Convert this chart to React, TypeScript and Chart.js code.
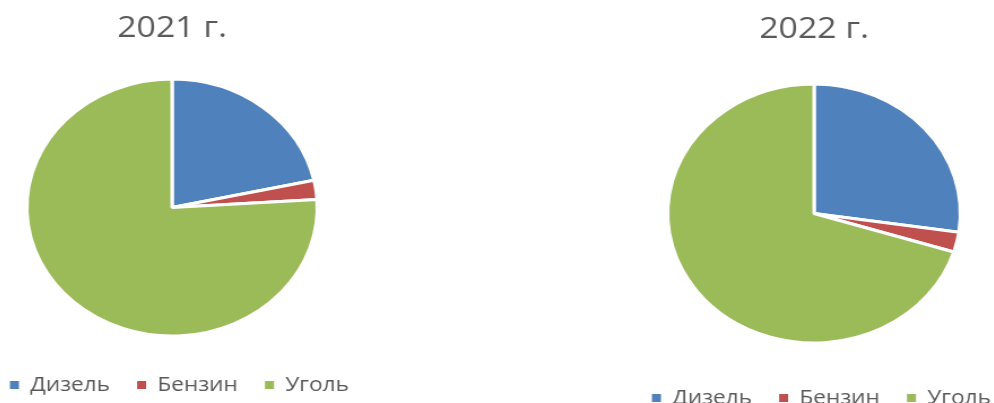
import { useEffect, useRef } from 'react';
import { Chart, registerables, DoughnutController } from 'chart.js';

Chart.register(...registerables);

// Fuel structure by year, percent
const fuelTypes = ['Дизель', 'Бензин', 'Уголь'];
const shares2021 = [21.6, 2.4, 76.0];
const shares2022 = [27.3, 2.5, 70.2];
const titles = ['2021 г.', '2022 г.'];
const sliceColors = ['#4F81BD', '#C0504D', '#9BBB59'];

const STRETCH = 1.13;
const BOX_W = 370;
const FONT = "'Open Sans', 'Liberation Sans', sans-serif";
const TEXT_COLOR = '#595959';

// Moves the legend sideways without touching the pie
const legendShift = {
  id: 'legendShift',
  afterLayout(chart: any, _args: any, opts: any) {
    const l = chart.legend;
    if (l && opts && opts.dx) {
      l.left += opts.dx;
      l.right += opts.dx;
    }
  },
};

type PieProps = {
  title: string;
  values: number[];
  centerX: number;
  height: number;
  radius: number;
  padTop: number;
  padBottom: number;
};

function FuelPie({ title, values, centerX, height, radius, padTop, padBottom }: PieProps) {
  const ref = useRef<HTMLCanvasElement | null>(null);

  useEffect(() => {
    if (!ref.current) return;
    const baseLabels = (DoughnutController as any).overrides.plugins.legend.labels.generateLabels;
    const chart = new Chart(ref.current, {
      type: 'pie',
      data: {
        labels: fuelTypes,
        datasets: [
          {
            data: values,
            backgroundColor: sliceColors,
            borderColor: '#ffffff',
            borderWidth: 3,
            radius,
          } as any,
        ],
      },
      plugins: [legendShift],
      options: {
        animation: false,
        responsive: true,
        maintainAspectRatio: false,
        plugins: {
          title: {
            display: true,
            text: title,
            color: TEXT_COLOR,
            font: { family: FONT, size: 30, weight: 'normal' },
            padding: { top: padTop, bottom: padBottom },
          },
          legend: {
            position: 'bottom',
            labels: {
              boxWidth: 8,
              boxHeight: 8,
              padding: 24,
              color: TEXT_COLOR,
              font: { family: FONT, size: 20 },
              generateLabels: (c: any) =>
                baseLabels(c).map((item: any) => ({ ...item, lineWidth: 0 })),
            },
          },
          tooltip: { enabled: false },
          legendShift: { dx: 6.5 },
        } as any,
      },
    });
    return () => chart.destroy();
  }, [title, values, radius, padTop, padBottom]);

  return (
    <div
      style={{
        position: 'absolute',
        left: centerX - (STRETCH * BOX_W) / 2,
        top: 0,
        width: BOX_W,
        height,
        transform: `scaleX(${STRETCH})`,
        transformOrigin: '0 0',
      }}
    >
      <canvas ref={ref} />
    </div>
  );
}

export default function App() {
  return (
    <div
      style={{
        position: 'fixed',
        left: 0,
        top: 0,
        width: 994,
        height: 403,
        overflow: 'hidden',
        background: '#ffffff',
      }}
    >
      <FuelPie title={titles[0]} values={shares2021} centerX={172} height={405} radius={128.5} padTop={10} padBottom={18} />
      <FuelPie title={titles[1]} values={shares2022} centerX={814} height={418} radius={129.5} padTop={11.5} padBottom={15.5} />
    </div>
  );
}
